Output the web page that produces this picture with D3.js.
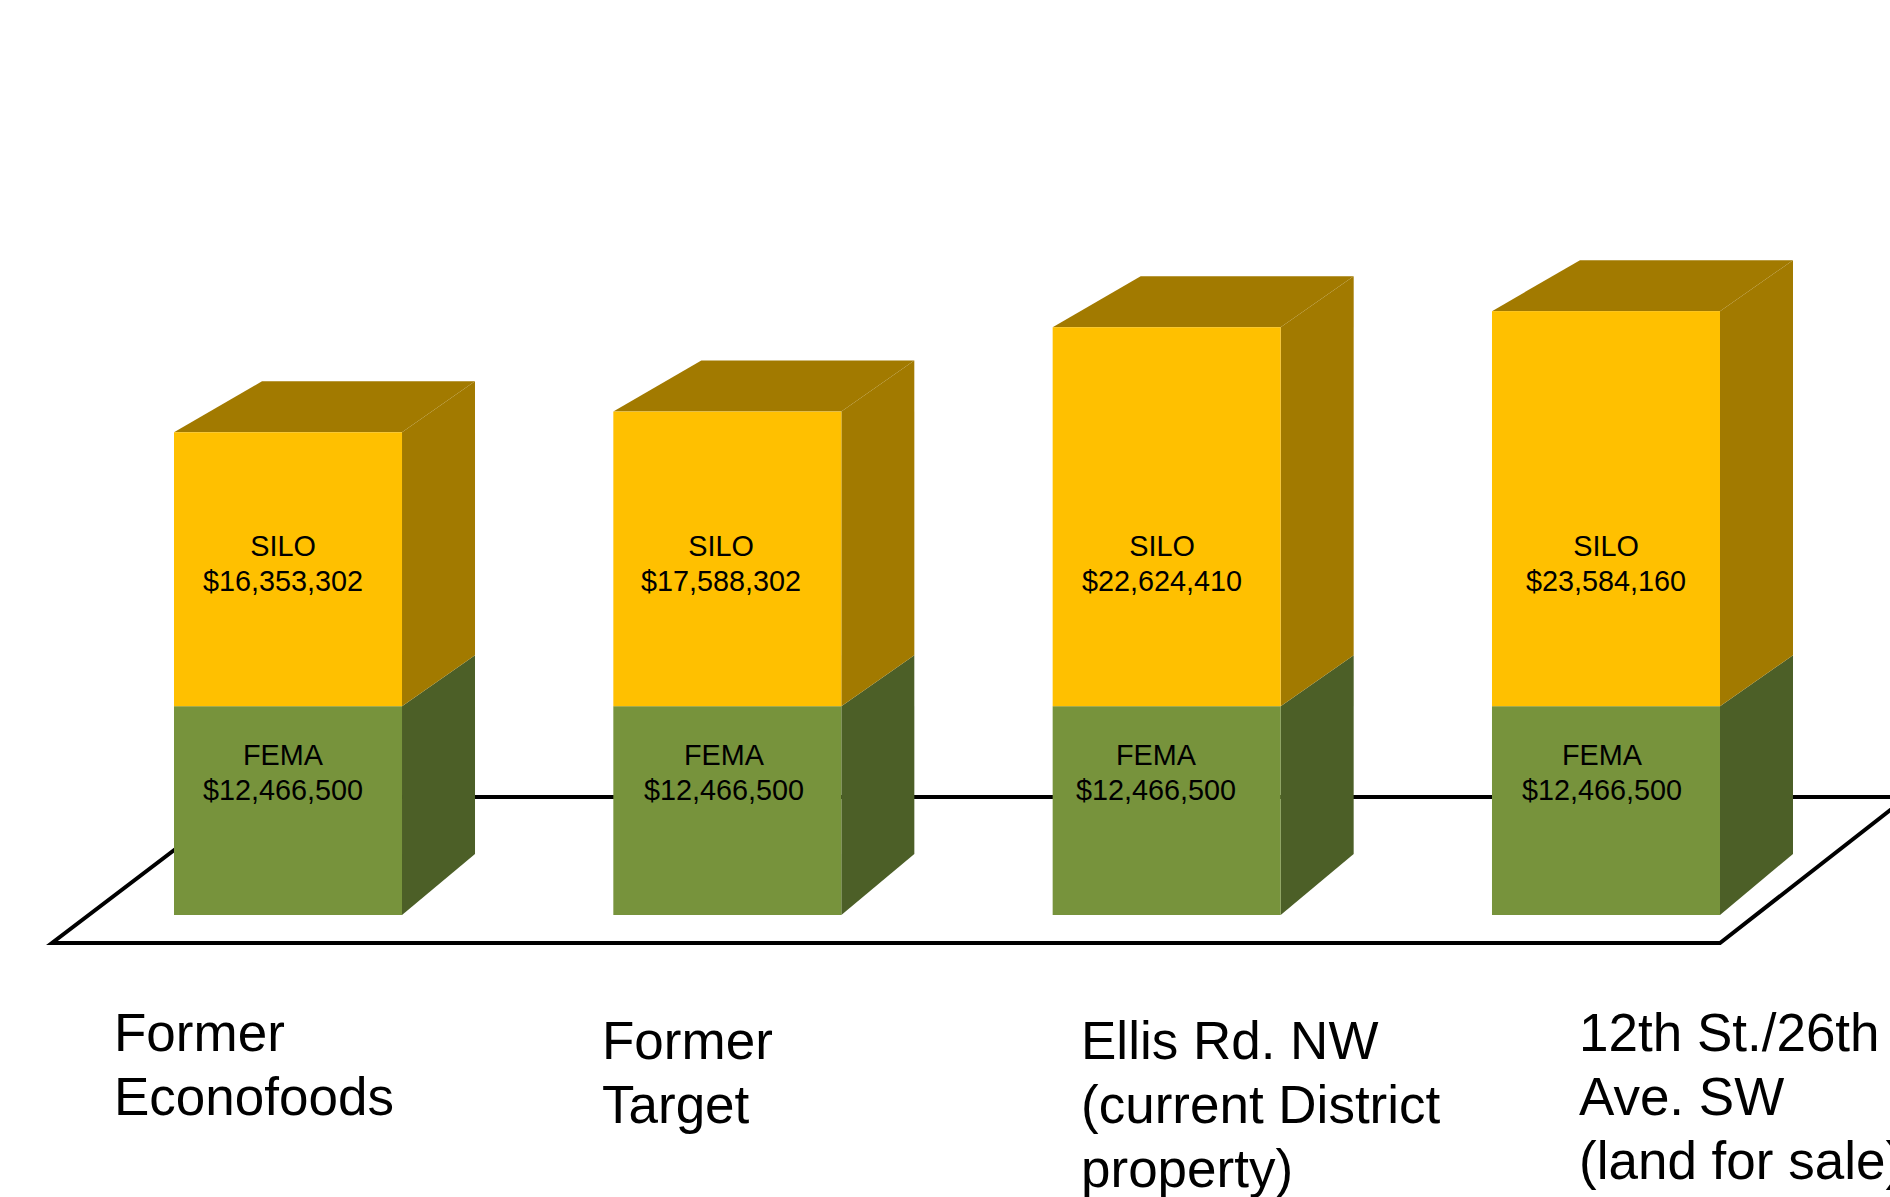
<!DOCTYPE html>
<html lang="en">
<head>
    <meta charset="UTF-8">
    <title>Site cost comparison</title>
    <script src="https://d3js.org/d3.v7.min.js"></script>
    <style>
        body { margin: 0; background: #fff; }
        svg { display: block; }
        text { font-family: "Liberation Sans", Arial, sans-serif; fill: #000; }
        .value { font-size: 28.8px; text-anchor: middle; }
        .site { font-size: 53px; }
    </style>
</head>
<body>
<svg width="1890" height="1197"></svg>
<script>
    // Values
    const sites = ["Former Econofoods", "Former Target", "Ellis Rd. NW", "12th St./26th Ave. SW"];
    const siteLines = [
        ["Former", "Econofoods"],
        ["Former", "Target"],
        ["Ellis Rd. NW", "(current District", "property)"],
        ["12th St./26th", "Ave. SW", "(land for sale)"]
    ];
    const femaValues = [12466500, 12466500, 12466500, 12466500];
    const siloValues = [16353302, 17588302, 22624410, 23584160];

    const colors = {
        silo: {front: "#FFC000", side: "#A27A00", top: "#A27A00"},
        fema: {front: "#77933C", side: "#4C5F27"}
    };

    const svg = d3.select("svg");

    // Scales
    const x = d3.scaleBand().domain(sites).range([174, 1720]).paddingInner(0.481).paddingOuter(0);
    const y = d3.scaleLinear().domain([0, 40000000]).range([915, 915 - 670]);
    const money = d => "$" + d3.format(",")(d);

    // Depth of the fake 3D boxes
    const sideDx = 73, topBackDx = 88, depthDy = 51, footDy = 61;

    // Floor, drawn first so the boxes cover it
    const floor = [[1907, 797], [244, 797], [52, 943], [1720, 943]];
    svg.append("path")
        .attr("d", d3.line()(floor) + "Z")
        .attr("fill", "none")
        .attr("stroke", "#000")
        .attr("stroke-width", 4)
        .attr("stroke-linejoin", "miter");

    const poly = d3.line();
    const bars = svg.selectAll("g.bar")
        .data(sites.map((s, i) => ({site: s, fema: femaValues[i], silo: siloValues[i]})))
        .join("g")
        .attr("class", "bar");

    // FEMA side and front
    bars.append("path")
        .attr("fill", colors.fema.side)
        .attr("d", d => {
            const r = x(d.site) + x.bandwidth();
            return poly([[r, y(0)], [r + sideDx, y(0) - footDy], [r + sideDx, y(d.fema) - depthDy], [r, y(d.fema)]]);
        });
    bars.append("rect")
        .attr("fill", colors.fema.front)
        .attr("x", d => x(d.site))
        .attr("width", x.bandwidth())
        .attr("y", d => y(d.fema))
        .attr("height", d => y(0) - y(d.fema));

    // SILO side, top and front
    bars.append("path")
        .attr("fill", colors.silo.side)
        .attr("d", d => {
            const r = x(d.site) + x.bandwidth();
            const low = y(d.fema), high = y(d.fema + d.silo);
            return poly([[r, low], [r + sideDx, low - depthDy], [r + sideDx, high - depthDy], [r, high]]);
        });
    bars.append("path")
        .attr("fill", colors.silo.top)
        .attr("d", d => {
            const l = x(d.site), r = l + x.bandwidth();
            const high = y(d.fema + d.silo);
            return poly([[l, high], [l + topBackDx, high - depthDy], [r + sideDx, high - depthDy], [r, high]]);
        });
    bars.append("rect")
        .attr("fill", colors.silo.front)
        .attr("x", d => x(d.site))
        .attr("width", x.bandwidth())
        .attr("y", d => y(d.fema + d.silo))
        .attr("height", d => y(d.fema) - y(d.fema + d.silo));

    // Value labels sit a little off centre, differently on each box
    const siloLabelX = [283, 721, 1162, 1606];
    const femaLabelX = [283, 724, 1156, 1602];

    function valueLabel(name, values, xs, baseY) {
        values.forEach((v, i) => {
            const t = svg.append("text").attr("class", "value").attr("y", baseY);
            t.append("tspan").attr("x", xs[i]).text(name);
            t.append("tspan").attr("x", xs[i]).attr("dy", 35).text(money(v));
        });
    }
    valueLabel("SILO", siloValues, siloLabelX, 556);
    valueLabel("FEMA", femaValues, femaLabelX, 765);

    // Site names under the floor
    const siteX = [114, 602, 1081, 1579];
    const siteY = [1051, 1059, 1059, 1051];
    siteLines.forEach((lines, i) => {
        const t = svg.append("text").attr("class", "site").attr("y", siteY[i]);
        lines.forEach((line, j) => {
            t.append("tspan").attr("x", siteX[i]).attr("dy", j ? 64 : 0).text(line);
        });
    });
</script>
</body>
</html>
